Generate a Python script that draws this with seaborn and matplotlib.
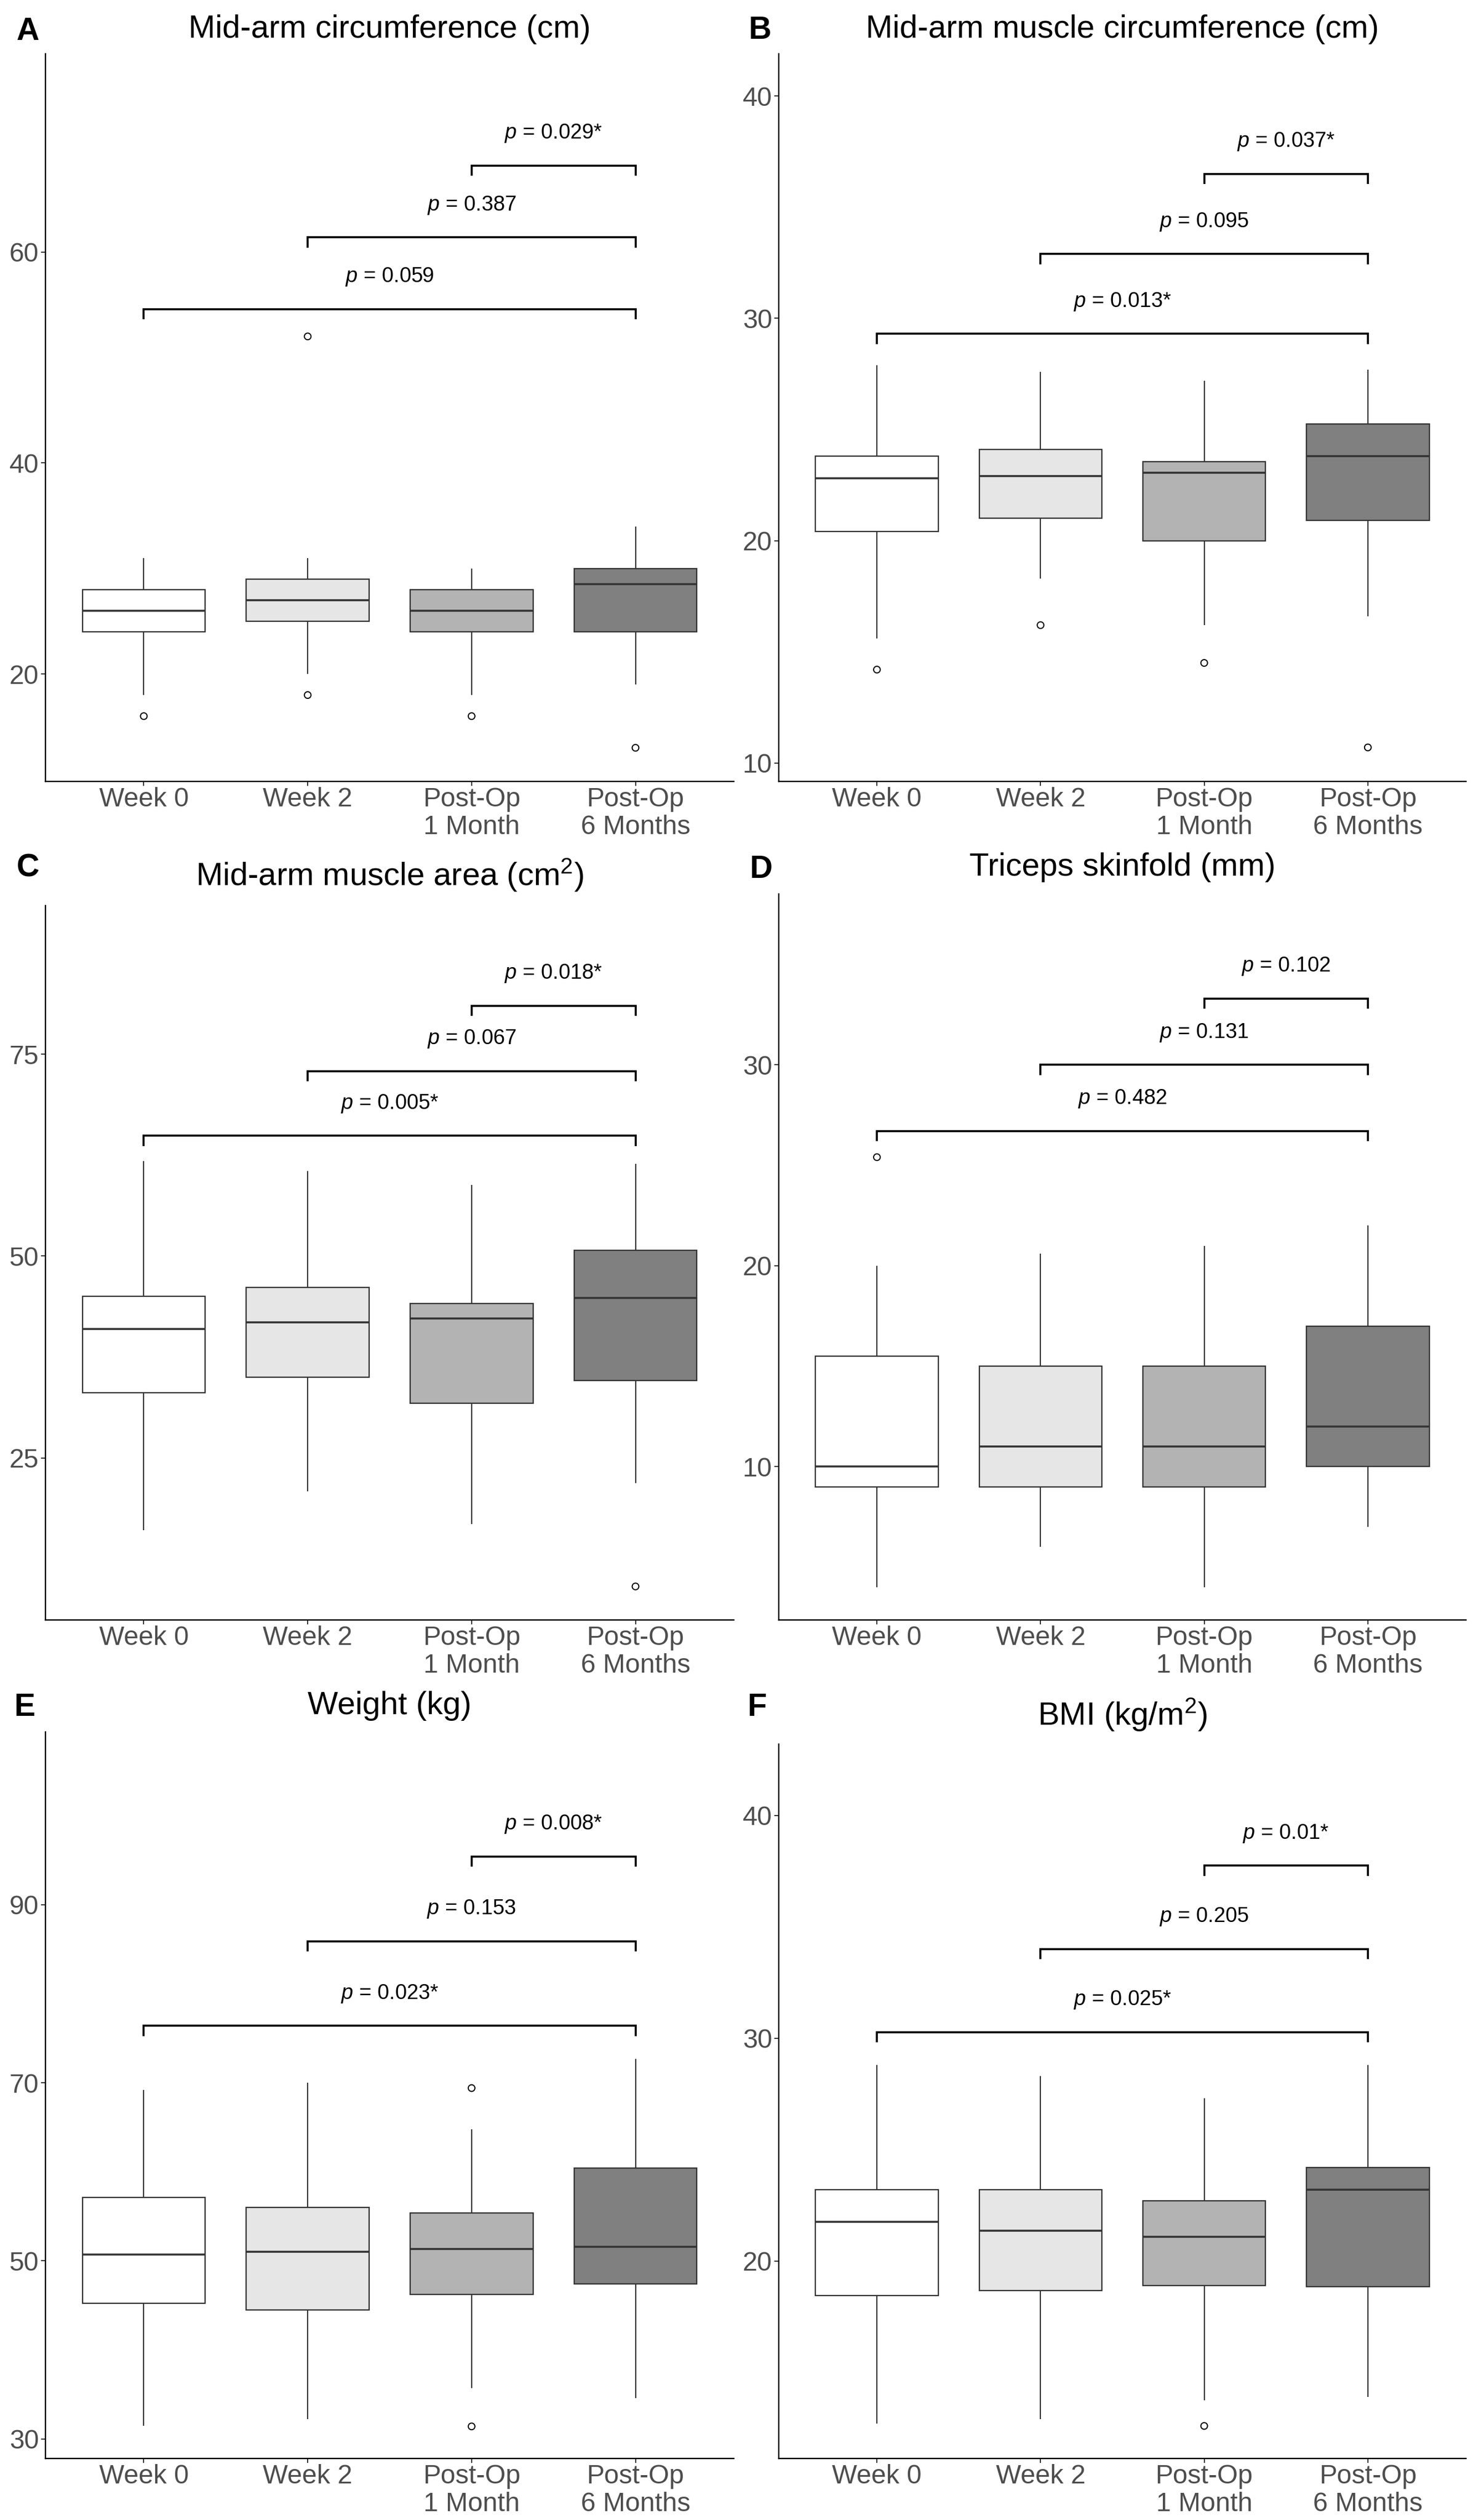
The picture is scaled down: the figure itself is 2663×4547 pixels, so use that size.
import numpy as np
import pandas as pd
import matplotlib
matplotlib.use("Agg")
import matplotlib.pyplot as plt
import seaborn as sns

# ---------------- data ----------------
groups = ["Week 0", "Week 2", "Post-Op\n1 Month", "Post-Op\n6 Months"]
fills = ["#FFFFFF", "#E6E6E6", "#B3B3B3", "#808080"]
pairs = [(0, 3), (1, 3), (2, 3)]

# A: Mid-arm circumference (cm)
mac_lo = [18, 20, 18, 19]
mac_q1 = [24, 25, 24, 24]
mac_med = [26, 27, 26, 28.5]
mac_q3 = [28, 29, 28, 30]
mac_hi = [31, 31, 30, 34]
mac_out = [[16], [18, 52], [16], [13]]
mac_p = ["0.059", "0.387", "0.029*"]
mac_br = [54.6, 61.4, 68.2]

# B: Mid-arm muscle circumference (cm)
mamc_lo = [15.6, 18.3, 16.2, 16.6]
mamc_q1 = [20.4, 21.0, 20.0, 20.9]
mamc_med = [22.8, 22.9, 23.05, 23.8]
mamc_q3 = [23.8, 24.1, 23.55, 25.25]
mamc_hi = [27.9, 27.6, 27.2, 27.7]
mamc_out = [[14.2], [16.2], [14.5], [10.7]]
mamc_p = ["0.013*", "0.095", "0.037*"]
mamc_br = [29.3, 32.9, 36.5]

# C: Mid-arm muscle area (cm2)
mama_lo = [16.1, 20.9, 16.8, 21.9]
mama_q1 = [33.1, 35.0, 31.8, 34.6]
mama_med = [41.0, 41.8, 42.3, 44.85]
mama_q3 = [45.0, 46.1, 44.1, 50.7]
mama_hi = [61.8, 60.5, 58.8, 61.4]
mama_out = [[], [], [], [9.1]]
mama_p = ["0.005*", "0.067", "0.018*"]
mama_br = [64.9, 72.9, 81.0]

# D: Triceps skinfold (mm)
tsf_lo = [4, 6, 4, 7]
tsf_q1 = [9, 9, 9, 10]
tsf_med = [10, 11, 11, 12]
tsf_q3 = [15.5, 15, 15, 17]
tsf_hi = [20, 20.6, 21, 22]
tsf_out = [[25.4], [], [], []]
tsf_p = ["0.482", "0.131", "0.102"]
tsf_br = [26.7, 30.0, 33.3]

# E: Weight (kg)
wt_lo = [31.5, 32.2, 35.7, 34.6]
wt_q1 = [45.2, 44.5, 46.2, 47.4]
wt_med = [50.7, 51.0, 51.3, 51.6]
wt_q3 = [57.1, 56.0, 55.4, 60.4]
wt_hi = [69.2, 70.0, 64.8, 72.7]
wt_out = [[], [], [69.4, 31.4], []]
wt_p = ["0.023*", "0.153", "0.008*"]
wt_br = [76.4, 85.9, 95.4]

# F: BMI (kg/m2)
bmi_lo = [12.7, 12.9, 13.75, 13.9]
bmi_q1 = [18.45, 18.67, 18.9, 18.86]
bmi_med = [21.77, 21.36, 21.1, 23.2]
bmi_q3 = [23.2, 23.2, 22.7, 24.2]
bmi_hi = [28.8, 28.3, 27.3, 28.8]
bmi_out = [[], [], [12.6], []]
bmi_p = ["0.025*", "0.205", "0.01*"]
bmi_br = [30.27, 34.0, 37.75]

panels = [
    ("A", "Mid-arm circumference (cm)", mac_lo, mac_q1, mac_med, mac_q3, mac_hi, mac_out, mac_p, mac_br,
     (9.81, 78.8), [20, 40, 60]),
    ("B", "Mid-arm muscle circumference (cm)", mamc_lo, mamc_q1, mamc_med, mamc_q3, mamc_hi, mamc_out, mamc_p, mamc_br,
     (9.17, 41.9), [10, 20, 30, 40]),
    ("C", "Mid-arm muscle area (cm$^{2}$)", mama_lo, mama_q1, mama_med, mama_q3, mama_hi, mama_out, mama_p, mama_br,
     (4.95, 93.4), [25, 50, 75]),
    ("D", "Triceps skinfold (mm)", tsf_lo, tsf_q1, tsf_med, tsf_q3, tsf_hi, tsf_out, tsf_p, tsf_br,
     (2.37, 38.5), [10, 20, 30]),
    ("E", "Weight (kg)", wt_lo, wt_q1, wt_med, wt_q3, wt_hi, wt_out, wt_p, wt_br,
     (27.8, 109.4), [30, 50, 70, 90]),
    ("F", "BMI (kg/m$^{2}$)", bmi_lo, bmi_q1, bmi_med, bmi_q3, bmi_hi, bmi_out, bmi_p, bmi_br,
     (11.14, 43.2), [20, 30, 40]),
]

# ---------------- layout (pixels) ----------------
W, H = 2663, 4547
DPI = 100
# (left, right, top, bottom) of each plotting panel, in pixels
boxes = [
    (82, 1324, 97, 1410),
    (1405, 2645, 97, 1410),
    (82, 1324, 1634, 2923),
    (1405, 2645, 1613, 2923),
    (82, 1324, 3125, 4436),
    (1405, 2645, 3147, 4436),
]
title_pad_px = [29, 29, 36, 33, 32, 34]
letter_pos = [(30, 57), (1350, 55), (30, 1567), (1352, 1569), (25, 3081), (1348, 3081)]

sns.set_style("ticks")
plt.rcParams["font.family"] = ["Liberation Sans", "DejaVu Sans"]
plt.rcParams["mathtext.fontset"] = "custom"
plt.rcParams["mathtext.rm"] = "Liberation Sans"
plt.rcParams["mathtext.it"] = "Liberation Sans:italic"
plt.rcParams["mathtext.bf"] = "Liberation Sans:bold"

px = 72.0 / DPI  # points per pixel
fig = plt.figure(figsize=(W / DPI, H / DPI), dpi=DPI)
fig.patch.set_facecolor("white")

for k, (letter, title, lo, q1, med, q3, hi, outs, plabs, brs, ylim, yticks) in enumerate(panels):
    l, r, t, b = boxes[k]
    ax = fig.add_axes([l / W, 1 - b / H, (r - l) / W, (b - t) / H])

    # five summary values per box -> seaborn boxplot (whiskers at min/max)
    rows = []
    for g, vals in zip(groups, zip(lo, q1, med, q3, hi)):
        for v in vals:
            rows.append((g, v))
    df = pd.DataFrame(rows, columns=["time", "value"])
    sns.boxplot(data=df, x="time", y="value", hue="time", order=groups, hue_order=groups,
                palette=fills, width=0.75, whis=(0, 100), showcaps=False, showfliers=False,
                linecolor="#333333", linewidth=2.3 * px, legend=False, ax=ax,
                medianprops=dict(color="#333333", linewidth=3.6 * px),
                whiskerprops=dict(color="#333333", linewidth=2.2 * px),
                boxprops=dict(edgecolor="#333333", linewidth=2.3 * px))

    # outliers
    ox, oy = [], []
    for gi, vals in enumerate(outs):
        for v in vals:
            ox.append(gi)
            oy.append(v)
    if ox:
        ax.scatter(ox, oy, s=(12 * px) ** 2, facecolors="none", edgecolors="black",
                   linewidths=2 * px, zorder=5)

    ax.set_xlim(-0.6, 3.6)
    ax.set_ylim(*ylim)
    ax.set_yticks(yticks)
    ax.set_xticks(range(len(groups)))
    ax.set_xticklabels(groups, linespacing=1.15)
    ax.set_xlabel("")
    ax.set_ylabel("")

    # significance brackets
    yr = ylim[1] - ylim[0]
    tip = 18.5 / (b - t) * yr
    for (i, j), yb, lab in zip(pairs, brs, plabs):
        ax.plot([i, i, j, j], [yb - tip, yb, yb, yb - tip], color="black",
                linewidth=3.6 * px, solid_capstyle="butt", solid_joinstyle="miter", zorder=6)
        ax.annotate(r"$\mathit{p}$ = " + lab, xy=((i + j) / 2, yb), xytext=(0, 58 * px),
                    textcoords="offset points", ha="center", va="center",
                    fontsize=38 * px, color="black")

    # theme_classic look
    sns.despine(ax=ax)
    for s in ("left", "bottom"):
        ax.spines[s].set_color("black")
        ax.spines[s].set_linewidth(2.4 * px)
    ax.tick_params(axis="both", which="major", length=8 * px, width=2 * px, color="#333333",
                   labelsize=48 * px, labelcolor="#4D4D4D", pad=4 * px)
    ax.tick_params(axis="x", pad=2 * px)
    ax.set_facecolor("white")
    ax.grid(False)

    ax.set_title(title, fontsize=58 * px, color="black", pad=title_pad_px[k] * px)
    lx, ly = letter_pos[k]
    fig.text(lx / W, 1 - ly / H, letter, fontsize=57 * px, fontweight="bold",
             ha="left", va="center", color="black")

fig.savefig("out.png", dpi=DPI, facecolor="white")
